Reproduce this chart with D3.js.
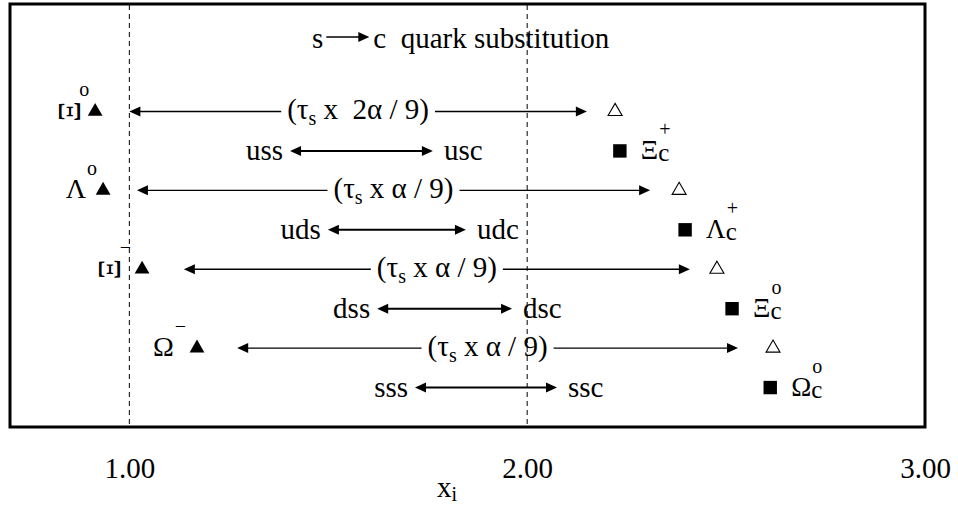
<!DOCTYPE html>
<html>
<head>
<meta charset="utf-8">
<script src="https://cdn.jsdelivr.net/npm/d3@7"></script>
<style>
  body { margin: 0; background: #fff; }
  svg text { font-family: "Liberation Serif", "Times New Roman", serif; fill: #000; white-space: pre; }
</style>
</head>
<body>
<svg id="chart" width="958" height="505"></svg>
<script>
// Strange baryons (filled triangles) and their charmed partners
const strangeNames   = ["Ξ", "Λ", "Ξ", "Ω"];
const strangeCharges = ["o", "o", "−", "−"];
const strangeRows    = [8, 6, 4, 2];
const strangeX       = [0.914, 0.934, 1.032, 1.170];

// Predicted charmed values (open triangles)
const predictedX     = [2.221, 2.382, 2.477, 2.618];

// Measured charmed baryons (filled squares)
const charmNames     = ["Ξ", "Λ", "Ξ", "Ω"];
const charmCharges   = ["+", "+", "o", "o"];
const charmRows      = [7, 5, 3, 1];
const charmX         = [2.233, 2.397, 2.515, 2.611];

// Shift arrows labelled (τs x kα / 9)
const shiftTerms     = [" x  2α / 9)", " x α / 9)", " x α / 9)", " x α / 9)"];
const shiftFrom      = [1.000, 1.019, 1.137, 1.271];
const shiftTo        = [2.150, 2.309, 2.409, 2.530];

// Quark content arrows
const quarkFrom      = ["uss", "uds", "dss", "sss"];
const quarkTo        = ["usc", "udc", "dsc", "ssc"];
const quarkStart     = [1.404, 1.499, 1.623, 1.718];
const quarkEnd       = [1.763, 1.846, 1.962, 2.075];

// Axis
const tickValues     = [1, 2, 3];
const tickLabels     = ["1.00", "2.00", "3.00"];
const guideValues    = [1, 2];

const SERIF = '"Liberation Serif", "Times New Roman", serif';
const svg = d3.select("#chart");
const x = d3.scaleLinear().domain([0.7, 3.0]).range([10, 925]);
const y = d3.scaleLinear().domain([0, 10.7]).range([427, 5]);

const FS = 29;

function txt(xp, yp, size) {
  return svg.append("text").attr("x", xp).attr("y", yp)
    .style("font-family", SERIF).attr("font-size", size);
}
function head(tipX, tipY, dir, len = 11, half = 5) {
  svg.append("path")
    .attr("d", `M${tipX},${tipY}L${tipX - dir * len},${tipY - half}L${tipX - dir * len},${tipY + half}Z`)
    .attr("fill", "#000");
}
function seg(x1, x2, yy, w) {
  svg.append("line")
    .attr("x1", x1).attr("x2", x2).attr("y1", yy).attr("y2", yy)
    .attr("stroke", "#000").attr("stroke-width", w);
}

// dashed guides at x = 1 and x = 2
svg.selectAll("line.guide").data(guideValues).join("line")
  .attr("class", "guide")
  .attr("x1", d => x(d)).attr("x2", d => x(d))
  .attr("y1", y(10.7)).attr("y2", y(0))
  .attr("stroke", "#000").attr("stroke-width", 1)
  .attr("stroke-dasharray", "5,4");

// title: s -> c quark substitution
const titleY = 48;
const sTxt = txt(312, titleY, FS).text("s");
const sEnd = 312 + sTxt.node().getComputedTextLength();
seg(sEnd + 3, sEnd + 36, titleY - 11, 1.3);
head(sEnd + 46, titleY - 11, 1, 11, 5);
txt(sEnd + 50, titleY, FS).text("c  quark substitution");

// shift arrows with centred labels
strangeRows.forEach((r, i) => {
  const ty = y(r);
  const x0 = x(shiftFrom[i]), x1 = x(shiftTo[i]);
  const t = txt((x0 + x1) / 2, ty + 8, FS).attr("text-anchor", "middle");
  t.append("tspan").text("(τ");
  t.append("tspan").attr("font-size", 20).attr("dy", 6).text("s");
  t.append("tspan").attr("dy", -6).text(shiftTerms[i]);
  const bb = t.node().getBBox();
  seg(x0 + 10, bb.x - 6, ty, 1.3);
  seg(bb.x + bb.width + 6, x1 - 10, ty, 1.3);
  head(x0, ty, -1);
  head(x1, ty, 1);
});

// quark content arrows
charmRows.forEach((r, i) => {
  const ty = y(r);
  const x0 = x(quarkStart[i]), x1 = x(quarkEnd[i]);
  seg(x0 + 10, x1 - 10, ty, 2);
  head(x0, ty, -1);
  head(x1, ty, 1);
  txt(x0 - 7, ty + 9, FS).attr("text-anchor", "end").text(quarkFrom[i]);
  txt(x1 + 11, ty + 9, FS).text(quarkTo[i]);
});

// filled triangles: strange baryons
svg.selectAll("path.strange").data(strangeX).join("path")
  .attr("class", "strange")
  .attr("transform", (d, i) => `translate(${x(d)},${y(strangeRows[i])})`)
  .attr("d", d3.symbol(d3.symbolTriangle, 95))
  .attr("fill", "#000");

// open triangles: predicted charmed values
svg.selectAll("path.pred").data(predictedX).join("path")
  .attr("class", "pred")
  .attr("transform", (d, i) => `translate(${x(d)},${y(strangeRows[i])})`)
  .attr("d", d3.symbol(d3.symbolTriangle, 85))
  .attr("fill", "#fff").attr("stroke", "#000").attr("stroke-width", 1.1);

// filled squares: charmed baryons
svg.selectAll("path.charm").data(charmX).join("path")
  .attr("class", "charm")
  .attr("transform", (d, i) => `translate(${x(d)},${y(charmRows[i])})`)
  .attr("d", d3.symbol(d3.symbolSquare, 180))
  .attr("fill", "#000");

// strange baryon names, left of their markers
strangeRows.forEach((r, i) => {
  const tx = x(strangeX[i]), ty = y(r);
  const gap = strangeCharges[i] === "o" ? 6 : 11;
  const sup = txt(tx - gap, ty - 15, 20).attr("text-anchor", "end").text(strangeCharges[i]);
  const supLeft = tx - gap - sup.node().getComputedTextLength();
  if (strangeNames[i] === "Ξ") {
    svg.append("text")
      .attr("transform", `translate(${supLeft - 10},${ty}) rotate(-90)`)
      .attr("text-anchor", "middle").attr("y", 0.33 * 32)
      .style("font-family", SERIF).attr("font-size", 32).text("Ξ");
  } else {
    txt(supLeft - 1, ty + 8, 28).attr("text-anchor", "end").text(strangeNames[i]);
  }
});

// charmed baryon names, right of their markers
charmRows.forEach((r, i) => {
  const cx = x(charmX[i]) + 21, cy = y(r);
  const t = txt(cx, cy + 8, 27);
  t.append("tspan").text(charmNames[i]);
  const base = t.node().getComputedTextLength();
  t.append("tspan").attr("font-size", 25).attr("dy", 2).text("c");
  txt(cx + base + 1, cy - 15, 20).text(charmCharges[i]);
});

// x axis labels
const axis = d3.axisBottom(x)
  .tickValues(tickValues)
  .tickFormat((d, i) => tickLabels[i])
  .tickSize(0).tickPadding(30);
const ga = svg.append("g").attr("transform", `translate(0,${y(0)})`).call(axis);
ga.select(".domain").remove();
ga.attr("font-family", null).attr("font-size", FS);
ga.selectAll("text").style("font-family", SERIF).attr("fill", "#000");

// axis title
const xt = txt(437, 497, FS);
xt.append("tspan").text("x");
xt.append("tspan").attr("font-size", 20).attr("dy", 4).text("i");

// plot frame
svg.append("rect")
  .attr("x", x(0.7)).attr("y", y(10.7) - 1)
  .attr("width", x(3.0) - x(0.7)).attr("height", y(0) - y(10.7) + 1)
  .attr("fill", "none").attr("stroke", "#000").attr("stroke-width", 3);
</script>
</body>
</html>
